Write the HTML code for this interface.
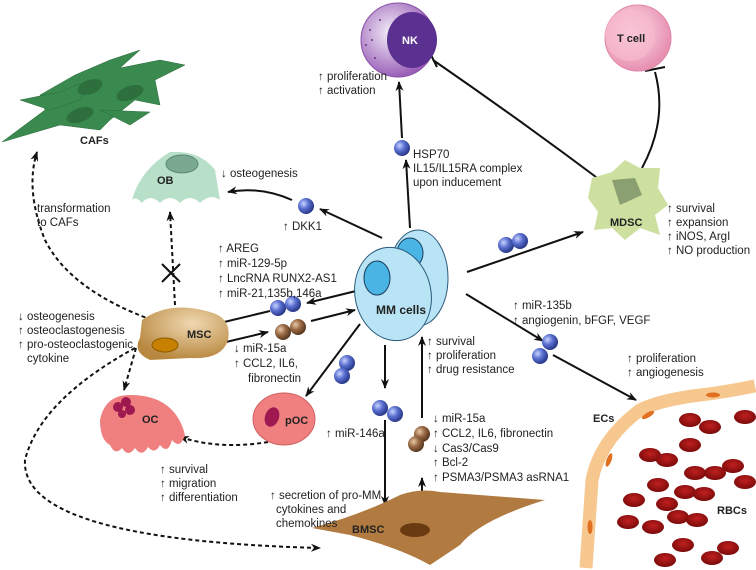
<!DOCTYPE html>
<html><head><meta charset="utf-8"><style>
body{margin:0;background:#fff}
svg{display:block}
text{font-family:"Liberation Sans",sans-serif;font-size:11.5px;fill:#222}
.b{font-weight:bold;font-size:11px}
</style></head><body>
<svg width="756" height="570" viewBox="0 0 756 570" xmlns="http://www.w3.org/2000/svg">
<defs>
<radialGradient id="bl" cx="35%" cy="35%" r="65%"><stop offset="0" stop-color="#c8d4ff"/><stop offset="0.5" stop-color="#5a6fd0"/><stop offset="1" stop-color="#2a3a8a"/></radialGradient>
<radialGradient id="br" cx="35%" cy="35%" r="65%"><stop offset="0" stop-color="#e8c8a8"/><stop offset="0.5" stop-color="#9a6a45"/><stop offset="1" stop-color="#5a3a20"/></radialGradient>
<radialGradient id="nk" cx="40%" cy="40%" r="60%"><stop offset="0" stop-color="#f4eef8"/><stop offset="1" stop-color="#9a60b8"/></radialGradient>
<radialGradient id="tc" cx="40%" cy="40%" r="60%"><stop offset="0" stop-color="#fde4ee"/><stop offset="1" stop-color="#e890b0"/></radialGradient>
<radialGradient id="ms" cx="60%" cy="30%" r="70%"><stop offset="0" stop-color="#f0d8b0"/><stop offset="1" stop-color="#b88840"/></radialGradient>
<radialGradient id="rb" cx="50%" cy="40%" r="60%"><stop offset="0" stop-color="#c02020"/><stop offset="1" stop-color="#7a0a0a"/></radialGradient>
<marker id="a" markerWidth="10" markerHeight="8" refX="9" refY="4" orient="auto" markerUnits="userSpaceOnUse"><path d="M0,0 L10,4 L0,8 L3,4z" fill="#111"/></marker>
</defs>
<g stroke="#111" stroke-width="2" fill="none">
<line x1="410" y1="228" x2="406" y2="160" marker-end="url(#a)"/>
<line x1="402" y1="138" x2="399" y2="82" marker-end="url(#a)"/>
<line x1="382" y1="238" x2="320" y2="209" marker-end="url(#a)"/>
<path d="M292,200 Q260,186 228,192" marker-end="url(#a)"/>
<line x1="467" y1="272" x2="583" y2="232" marker-end="url(#a)"/>
<path d="M600,180 Q520,120 433,60"/>
<line x1="430" y1="53" x2="437" y2="67"/>
<path d="M642,168 Q668,120 655,72"/>
<line x1="645" y1="71" x2="665" y2="67"/>
<line x1="356" y1="291" x2="307" y2="303" marker-end="url(#a)"/>
<line x1="220" y1="323" x2="270" y2="311"/>
<line x1="226" y1="342" x2="268" y2="332" marker-end="url(#a)"/>
<line x1="311" y1="321" x2="355" y2="310" marker-end="url(#a)"/>
<line x1="360" y1="324" x2="306" y2="396" marker-end="url(#a)"/>
<line x1="385" y1="345" x2="385" y2="388" marker-end="url(#a)"/>
<line x1="385" y1="420" x2="385" y2="505" marker-end="url(#a)"/>
<line x1="422" y1="418" x2="422" y2="337" marker-end="url(#a)"/>
<line x1="422" y1="503" x2="422" y2="478" marker-end="url(#a)"/>
<line x1="466" y1="294" x2="543" y2="341" marker-end="url(#a)"/>
<line x1="553" y1="355" x2="636" y2="400" marker-end="url(#a)"/>
</g>
<g stroke="#111" stroke-width="2" fill="none" stroke-dasharray="4,3">
<path d="M175,305 L170,212" marker-end="url(#a)"/>
<path d="M152,320 Q70,290 45,240 Q25,190 37,152" marker-end="url(#a)"/>
<path d="M136,348 L124,390" marker-end="url(#a)"/>
<path d="M268,442 Q220,450 180,437" marker-end="url(#a)"/>
<path d="M135,348 Q40,400 25,460 Q20,540 320,548" marker-end="url(#a)"/>
</g>
<g stroke="#111" stroke-width="2"><line x1="162" y1="264" x2="180" y2="282"/><line x1="180" y1="264" x2="162" y2="282"/></g>

<g fill="#3a8a50" stroke="#2a6a3a" stroke-width="0.5">
<path d="M2,142 L45,110 L40,95 L75,75 L110,60 L140,50 L120,68 L160,60 L185,65 L155,80 L160,105 L135,100 L110,120 L100,130 L60,125 Z"/>
<path d="M20,100 L60,92 L90,80 L80,100 L50,110 Z"/>
<path d="M100,110 L150,112 L130,125 Z"/>
</g>
<g fill="#2a6a3a" opacity="0.8"><ellipse cx="90" cy="87" rx="13" ry="7" transform="rotate(-20 90 87)"/><ellipse cx="130" cy="93" rx="14" ry="7" transform="rotate(-20 130 93)"/><ellipse cx="80" cy="115" rx="14" ry="7" transform="rotate(-20 80 115)"/></g>
<text class="b" x="80" y="144">CAFs</text>

<circle cx="398" cy="40" r="37" fill="url(#nk)" stroke="#8a50a8"/>
<ellipse cx="412" cy="40" rx="25" ry="28" fill="#5a3090"/>
<text class="b" x="402" y="44" style="fill:#fff">NK</text>
<g fill="#6a3a80"><circle cx="370" cy="30" r="1"/><circle cx="366" cy="45" r="1"/><circle cx="375" cy="58" r="1"/><circle cx="380" cy="20" r="1"/><circle cx="372" cy="40" r="1"/></g>
<circle cx="638" cy="38" r="33" fill="url(#tc)" stroke="#e088a8"/>
<ellipse cx="630" cy="35" rx="25" ry="26" fill="#f6b8cc" opacity="0.7"/>
<text class="b" x="617" y="42">T cell</text>
<path d="M132,200 Q140,170 170,152 Q200,150 215,170 L220,200 Q210,193 200,203 Q190,193 180,203 Q170,193 160,203 Q150,193 142,203 Q136,196 132,200Z" fill="#b8e0c8"/>
<ellipse cx="182" cy="164" rx="16" ry="9" fill="#7aa890" stroke="#5a8870"/>
<text class="b" x="157" y="184">OB</text>
<path d="M592,178 L612,172 L625,160 L640,168 L660,168 L658,188 L668,205 L655,215 L660,235 L640,228 L625,240 L612,228 L594,230 L598,212 L588,198Z" fill="#cde0a0"/>
<path d="M612,180 L635,178 L642,195 L620,205 Z" fill="#8aa070"/>
<text class="b" x="610" y="226">MDSC</text>
<ellipse cx="418" cy="278" rx="30" ry="48" fill="#b8e4f6" stroke="#2a5a7a"/>
<ellipse cx="410" cy="253" rx="13" ry="15" fill="#4ab4e4" stroke="#1a3a5a"/>
<ellipse cx="393" cy="294" rx="38" ry="47" fill="#b8e4f6" stroke="#2a5a7a" transform="rotate(-12 393 294)"/>
<ellipse cx="377" cy="278" rx="13" ry="17" fill="#4ab4e4" stroke="#1a3a5a"/>
<text class="b" x="376" y="314" style="font-size:12px">MM cells</text>
<path d="M142,320 Q170,300 210,312 Q232,318 228,340 Q222,360 190,358 L150,360 Q132,352 140,338Z" fill="url(#ms)"/>
<ellipse cx="165" cy="345" rx="13" ry="7" fill="#c88000" stroke="#8a5a00"/>
<text class="b" x="187" y="338">MSC</text>
<ellipse cx="284" cy="419" rx="31" ry="26" fill="#f08080" stroke="#d06060"/>
<ellipse cx="272" cy="417" rx="7" ry="10" fill="#a01850" transform="rotate(20 272 417)"/>
<text class="b" x="285" y="424">pOC</text>
<path d="M100,420 Q105,395 130,395 Q175,395 185,435 Q180,450 172,440 Q168,455 160,445 Q155,455 148,447 Q142,458 135,448 Q128,458 122,448 Q115,456 110,445 Q100,440 100,420Z" fill="#f08080"/>
<g fill="#a01850"><circle cx="118" cy="407" r="5"/><circle cx="126" cy="402" r="5"/><circle cx="130" cy="410" r="5"/><circle cx="122" cy="414" r="4"/></g>
<text class="b" x="142" y="423">OC</text>
<path d="M312,528 Q360,515 400,495 Q420,488 440,492 L545,500 Q480,520 460,545 L430,565 Q400,548 350,535 Z" fill="#b07a40"/>
<ellipse cx="415" cy="530" rx="15" ry="7" fill="#6a3a10"/>
<text class="b" x="352" y="533">BMSC</text>
<path d="M755,386 Q720,393 700,395 Q660,400 640,410 Q600,440 592,480 L586,568" stroke="#f6c890" stroke-width="13" fill="none"/>
<g fill="#e07020"><ellipse cx="713" cy="395" rx="7" ry="2.5"/><ellipse cx="648" cy="415" rx="7" ry="2.5" transform="rotate(-30 648 415)"/><ellipse cx="609" cy="460" rx="2.5" ry="7" transform="rotate(20 609 460)"/><ellipse cx="590" cy="527" rx="2.5" ry="7"/></g>
<text class="b" x="593" y="422">ECs</text>
<g fill="url(#rb)">
<ellipse cx="690" cy="420" rx="11" ry="7"/><ellipse cx="710" cy="427" rx="11" ry="7"/><ellipse cx="745" cy="417" rx="11" ry="7"/>
<ellipse cx="690" cy="445" rx="11" ry="7"/><ellipse cx="650" cy="455" rx="11" ry="7"/><ellipse cx="667" cy="460" rx="11" ry="7"/>
<ellipse cx="695" cy="473" rx="11" ry="7"/><ellipse cx="715" cy="473" rx="11" ry="7"/><ellipse cx="733" cy="466" rx="11" ry="7"/><ellipse cx="745" cy="482" rx="11" ry="7"/>
<ellipse cx="658" cy="485" rx="11" ry="7"/><ellipse cx="685" cy="492" rx="11" ry="7"/><ellipse cx="704" cy="494" rx="11" ry="7"/>
<ellipse cx="634" cy="500" rx="11" ry="7"/><ellipse cx="667" cy="504" rx="11" ry="7"/><ellipse cx="678" cy="517" rx="11" ry="7"/><ellipse cx="697" cy="520" rx="11" ry="7"/>
<ellipse cx="628" cy="522" rx="11" ry="7"/><ellipse cx="653" cy="527" rx="11" ry="7"/><ellipse cx="683" cy="545" rx="11" ry="7"/>
<ellipse cx="665" cy="560" rx="11" ry="7"/><ellipse cx="712" cy="558" rx="11" ry="7"/><ellipse cx="728" cy="548" rx="11" ry="7"/>
</g>
<text class="b" x="717" y="514">RBCs</text>
<g fill="url(#bl)">
<circle cx="306" cy="206" r="8"/><circle cx="402" cy="148" r="8"/>
<circle cx="506" cy="245" r="8"/><circle cx="520" cy="241" r="8"/>
<circle cx="278" cy="308" r="8"/><circle cx="293" cy="304" r="8"/>
<circle cx="347" cy="363" r="8"/><circle cx="342" cy="376" r="8"/>
<circle cx="380" cy="408" r="8"/><circle cx="395" cy="414" r="8"/>
<circle cx="550" cy="342" r="8"/><circle cx="540" cy="356" r="8"/>
</g>
<g fill="url(#br)"><circle cx="283" cy="332" r="8"/><circle cx="298" cy="327" r="8"/><circle cx="422" cy="434" r="8"/><circle cx="416" cy="444" r="8"/></g>
<text x="318" y="80">↑ proliferation</text><text x="318" y="94">↑ activation</text>
<text x="221" y="177">↓ osteogenesis</text>
<text x="283" y="230">↑ DKK1</text>
<text x="413" y="158">HSP70</text><text x="413" y="172">IL15/IL15RA complex</text><text x="413" y="186">upon inducement</text>
<text x="667" y="212">↑ survival</text><text x="667" y="226">↑ expansion</text><text x="667" y="240">↑ iNOS, ArgI</text><text x="667" y="254">↑ NO production</text>
<text x="37" y="212">transformation</text><text x="37" y="226">to CAFs</text>
<text x="218" y="252">↑ AREG</text><text x="218" y="267">↑ miR-129-5p</text><text x="218" y="282">↑ LncRNA RUNX2-AS1</text><text x="218" y="297">↑ miR-21,135b,146a</text>
<text x="18" y="320">↓ osteogenesis</text><text x="18" y="334">↑ osteoclastogenesis</text><text x="18" y="348">↑ pro-osteoclastogenic</text><text x="27" y="362">cytokine</text>
<text x="234" y="352">↓ miR-15a</text><text x="234" y="367">↑ CCL2, IL6,</text><text x="248" y="382">fibronectin</text>
<text x="160" y="473">↑ survival</text><text x="160" y="487">↑ migration</text><text x="160" y="501">↑ differentiation</text>
<text x="326" y="437">↑ miR-146a</text>
<text x="270" y="499">↑ secretion of pro-MM</text><text x="276" y="513">cytokines and</text><text x="276" y="527">chemokines</text>
<text x="427" y="345">↑ survival</text><text x="427" y="359">↑ proliferation</text><text x="427" y="373">↑ drug resistance</text>
<text x="433" y="422">↓ miR-15a</text><text x="433" y="437">↑ CCL2, IL6, fibronectin</text><text x="433" y="452">↓ Cas3/Cas9</text><text x="433" y="466">↑ Bcl-2</text><text x="433" y="481">↑ PSMA3/PSMA3 asRNA1</text>
<text x="513" y="309">↑ miR-135b</text><text x="513" y="324">↑ angiogenin, bFGF, VEGF</text>
<text x="627" y="362">↑ proliferation</text><text x="627" y="376">↑ angiogenesis</text>
</svg>
</body></html>
